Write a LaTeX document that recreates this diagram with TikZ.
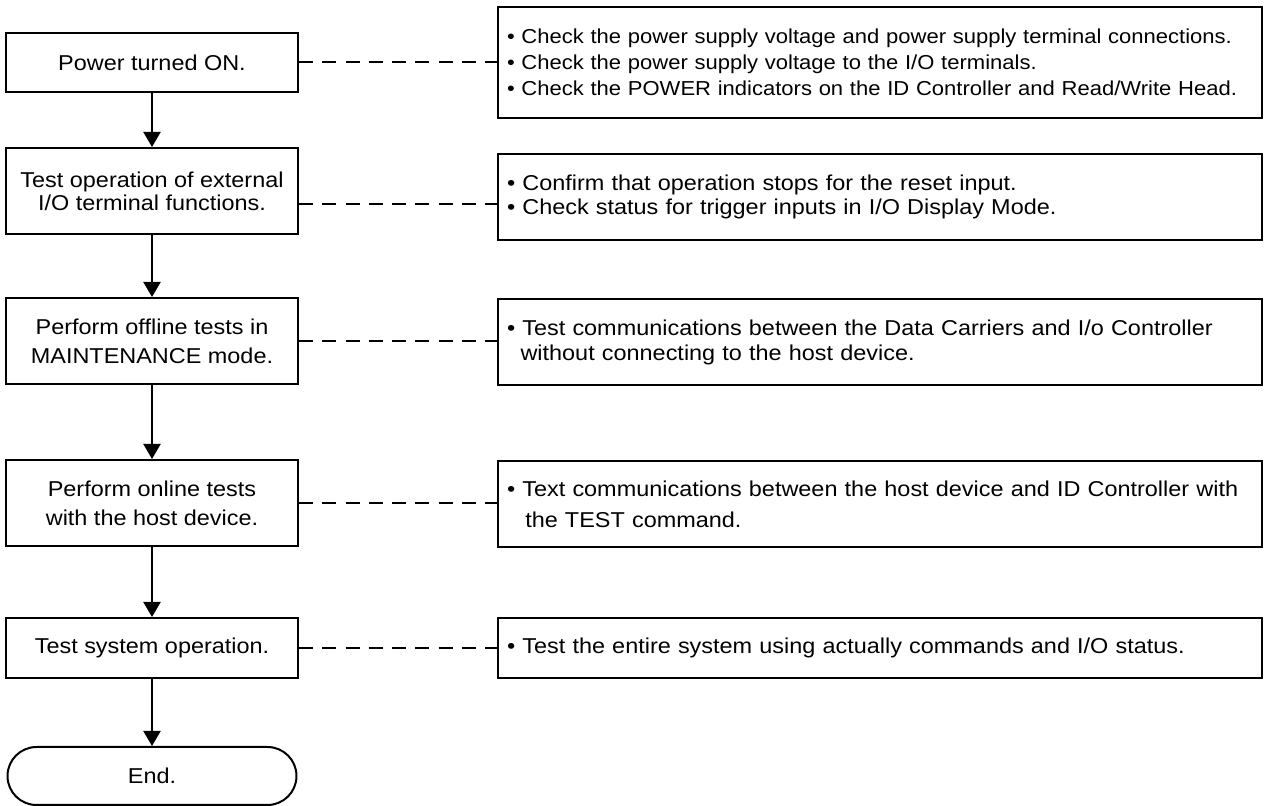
\documentclass[tikz,border=0pt]{standalone}
\usepackage{fontspec}
\setmainfont{Liberation Sans}[FakeStretch=1.09]
\usepackage{tikz}
\usetikzlibrary{positioning,arrows.meta,calc}

\begin{document}
\begin{tikzpicture}[
  x=0.5pt, y=-0.5pt,
  paso/.style={draw, line width=1pt, minimum width=146pt, align=center, inner sep=2pt,
    font=\fontsize{10.75}{14.5}\selectfont},
  nota/.style={draw, line width=1pt, text width=373pt, inner xsep=4.5pt, inner ysep=2pt,
    align=left, font=\fontsize{10.75}{15.5}\selectfont},
  cierre/.style={paso, rounded corners=14.5pt, minimum width=144.5pt},
  flecha/.style={line width=1pt, -{Triangle[length=7.5pt,width=8.5pt]}},
  enlace/.style={line width=1pt, dash pattern=on 7pt off 4.625pt}
]
\useasboundingbox (0,0) rectangle (1266,806);

% pasos del procedimiento
\node[paso, minimum height=29.5pt] (encendido) at (152,62.5) {Power turned ON.};
\node[paso, minimum height=43pt, font=\fontsize{10.75}{11.5}\selectfont] (externa) at (152,191)
  {Test operation of external\\I/O terminal functions.};
\node[paso, minimum height=43pt] (offline) at (152,341) {Perform offline tests in\\MAINTENANCE mode.};
\node[paso, minimum height=43pt] (online) at (152,503) {Perform online tests\\with the host device.};
\node[paso, minimum height=30pt] (sistema) at (152,648) {Test system operation.};
\node[cierre, minimum height=29pt] (final) at (152,776) {End.};

% notas de la derecha
\node[nota, minimum height=55.5pt, font=\fontsize{10.1}{13}\selectfont] (alimentacion) at (880,62.5)
  {\mbox{\textbullet\ Check the power supply voltage and power supply terminal connections.}\\
   \textbullet\ Check the power supply voltage to the I/O terminals.\\
   \mbox{\textbullet\ Check the POWER indicators on the ID Controller and Read/Write Head.}};
\node[nota, minimum height=43pt, font=\fontsize{10.75}{12}\selectfont] (reset) at (880,197)
  {\textbullet\ Confirm that operation stops for the reset input.\\
   \textbullet\ Check status for trigger inputs in I/O Display Mode.};
\node[nota, minimum height=43pt, font=\fontsize{10.75}{12.5}\selectfont] (portadores) at (880,342)
  {\textbullet\ Test communications between the Data Carriers and I/o Controller\\
   \hspace*{0.63em}without connecting to the host device.};
\node[nota, minimum height=43pt] (comando) at (880,504)
  {\mbox{\textbullet\ Text communications between the host device and ID Controller with}\\
   \hspace*{0.85em}the TEST command.};
\node[nota, minimum height=30pt] (global) at (880,648)
  {\textbullet\ Test the entire system using actually commands and I/O status.};

% flujo
\draw[flecha] (encendido) -- (externa);
\draw[flecha] (externa) -- (offline);
\draw[flecha] (offline) -- (online);
\draw[flecha] (online) -- (sistema);
\draw[flecha] (sistema) -- (final);

% enlaces punteados
\draw[enlace] (encendido) -- (alimentacion);
\draw[enlace] ([yshift=-6.5pt]externa.east) -- ([yshift=-6.5pt]externa.east -| reset.west);
\draw[enlace] (offline.east) -- (offline.east -| portadores.west);
\draw[enlace] (online.east) -- (online.east -| comando.west);
\draw[enlace] (sistema) -- (global);
\end{tikzpicture}
\end{document}
